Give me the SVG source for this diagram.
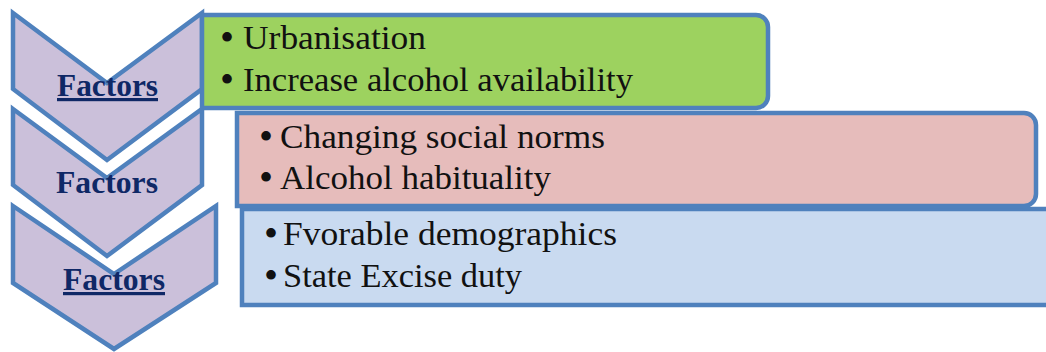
<svg xmlns="http://www.w3.org/2000/svg" width="1046" height="352" viewBox="0 0 1046 352">
<style>
.chev{fill:#cbc0da;stroke:#4f81bd;stroke-width:4.5;stroke-linejoin:miter}
.box{stroke:#4f81bd;stroke-width:4.5}
.fac{font-family:"Liberation Serif","Times New Roman",serif;font-weight:bold;font-size:32px;fill:#0f2866}
.ul{text-decoration:underline}
.t{font-family:"Liberation Serif","Times New Roman",serif;font-size:33px;fill:#111}
.b{font-family:"Liberation Serif","Times New Roman",serif;font-size:40px;fill:#111}
</style>
<rect width="1046" height="352" fill="#ffffff"/>
<g id="chevron3">
<polygon class="chev" points="13,206 114,274 216,206 216,283 114,349 13,283"/>
<text class="fac ul" x="63" y="290" textLength="102" lengthAdjust="spacingAndGlyphs">Factors</text>
</g>
<g id="chevron2">
<polygon class="chev" points="13,109 107,178 202,109 202,185 107,256 13,185"/>
<text class="fac" x="56" y="193" textLength="102" lengthAdjust="spacingAndGlyphs">Factors</text>
</g>
<g id="chevron1">
<polygon class="chev" points="13,13 107,83 202,13 202,89 107,160 13,89"/>
<text class="fac ul" x="57" y="96" textLength="101" lengthAdjust="spacingAndGlyphs">Factors</text>
</g>
<g id="box3">
<path class="box" fill="#c9daf0" d="M242,209 H1050 A12,12 0 0 1 1062,221 V293 A12,12 0 0 1 1050,305 H242 Z"/>
<text class="b" x="264" y="247">•</text>
<text class="t" x="283" y="245" textLength="334" lengthAdjust="spacingAndGlyphs">Fvorable demographics</text>
<text class="b" x="264" y="289">•</text>
<text class="t" x="283" y="287" textLength="239" lengthAdjust="spacingAndGlyphs">State Excise duty</text>
</g>
<g id="box2">
<path class="box" fill="#e6bcbb" d="M237,113 H1024 A12,12 0 0 1 1036,125 V194 A12,12 0 0 1 1024,206 H237 Z"/>
<text class="b" x="259" y="150">•</text>
<text class="t" x="280" y="148" textLength="325" lengthAdjust="spacingAndGlyphs">Changing social norms</text>
<text class="b" x="259" y="191">•</text>
<text class="t" x="280" y="189" textLength="271" lengthAdjust="spacingAndGlyphs">Alcohol habituality</text>
</g>
<g id="box1">
<path class="box" fill="#9dd25f" d="M202,15 H756 A12,12 0 0 1 768,27 V96 A12,12 0 0 1 756,108 H202 Z"/>
<text class="b" x="220" y="51">•</text>
<text class="t" x="243" y="49" textLength="183" lengthAdjust="spacingAndGlyphs">Urbanisation</text>
<text class="b" x="220" y="93">•</text>
<text class="t" x="243" y="91" textLength="390" lengthAdjust="spacingAndGlyphs">Increase alcohol availability</text>
</g>
<g id="connectors"></g>
</svg>
